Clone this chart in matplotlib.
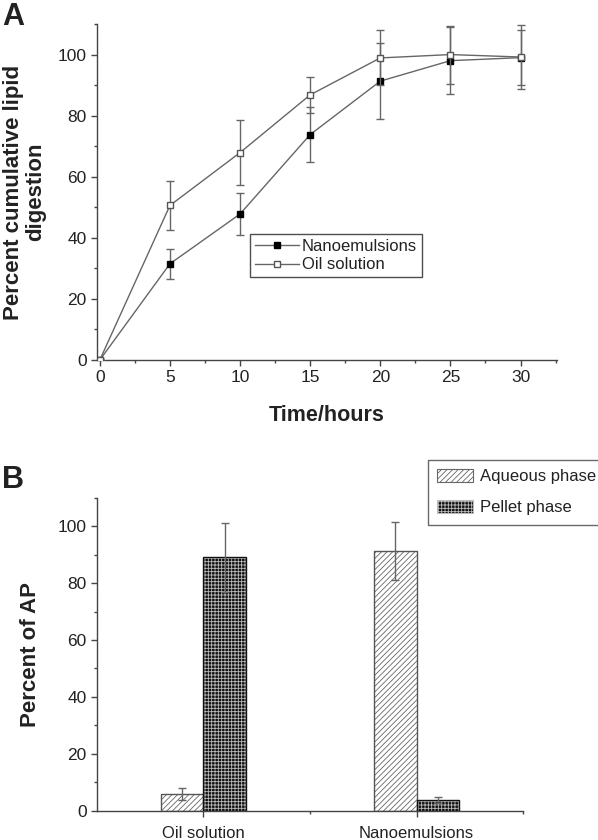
import matplotlib
matplotlib.use("Agg")
import matplotlib.pyplot as plt
from matplotlib.ticker import MultipleLocator, FixedLocator
from matplotlib.lines import Line2D
from matplotlib.patches import Patch

plt.rcParams['font.family'] = ['Liberation Sans', 'DejaVu Sans']
plt.rcParams['hatch.linewidth'] = 0.6

# panel A data
time_h = [0, 5, 10, 15, 20, 25, 30]
nano_digest = [0, 31.5, 47.8, 73.8, 91.3, 98.0, 99.0]
nano_err = [0, 5.0, 7.0, 9.0, 12.5, 11.0, 9.0]
oil_digest = [0, 50.6, 67.9, 86.8, 98.9, 100.0, 99.2]
oil_err = [0, 8.0, 10.7, 6.0, 9.0, 9.5, 10.5]

# panel B data
groups = ["Oil solution", "Nanoemulsions"]
aqueous = [5.8, 91.2]
aqueous_err = [2.0, 10.3]
pellet = [89.0, 3.8]
pellet_err = [12.0, 1.0]

TXT = "#222222"
AX = "#444444"
LN = "#666666"

fig = plt.figure(figsize=(5.98, 8.4), dpi=100)

def style_axes(ax):
    for s in ["top", "right"]:
        ax.spines[s].set_visible(False)
    for s in ["left", "bottom"]:
        ax.spines[s].set_color(AX)
        ax.spines[s].set_linewidth(1.0)
    ax.tick_params(which="major", direction="out", length=4, width=1, colors=AX,
                   labelcolor=TXT, labelsize=12.5)
    ax.tick_params(which="minor", direction="out", length=2.5, width=1, colors=AX)

# ---- A ----
axA = fig.add_axes([0.1622, 0.5714, 0.7692, 0.4])
style_axes(axA)
axA.errorbar(time_h, nano_digest, yerr=nano_err, color=LN, lw=1.0, ecolor=LN,
             elinewidth=1.0, capsize=3, marker="s", ms=4.8, mfc="black",
             mec="black", zorder=3)
axA.errorbar(time_h, oil_digest, yerr=oil_err, color=LN, lw=1.0, ecolor=LN,
             elinewidth=1.0, capsize=3, marker="s", ms=4.8, mfc="white",
             mec="#555555", zorder=4)
axA.set_xlim(-0.2, 32.6)
axA.set_ylim(0, 110)
axA.xaxis.set_major_locator(MultipleLocator(5))
axA.xaxis.set_minor_locator(MultipleLocator(2.5))
axA.yaxis.set_major_locator(MultipleLocator(20))
axA.yaxis.set_minor_locator(MultipleLocator(10))
axA.set_xlabel("Time/hours", fontsize=15.5, fontweight="bold", color=TXT, labelpad=14)
axA.set_ylabel("Percent cumulative lipid\ndigestion", fontsize=16, fontweight="bold",
               color=TXT, labelpad=8, linespacing=1.1)
hN = Line2D([], [], color=LN, lw=1.0, marker="s", ms=4.8, mfc="black", mec="black")
hO = Line2D([], [], color=LN, lw=1.0, marker="s", ms=4.8, mfc="white", mec="#555555")
legA = axA.legend([hN, hO], ["Nanoemulsions", "Oil solution"], loc="upper left",
                  bbox_to_anchor=(0.333, 0.375), fontsize=12,
                  frameon=True, fancybox=False, edgecolor="#222222", numpoints=1,
                  handlelength=2.6, handletextpad=0.2, borderpad=0.3, labelspacing=0.2,
                  borderaxespad=0)
legA.get_frame().set_linewidth(1.0)
for t in legA.get_texts():
    t.set_color(TXT)
fig.text(0.003, 0.998, "A", fontsize=22, fontweight="bold", color=TXT, va="top", ha="left")

# ---- B ----
axB = fig.add_axes([0.1622, 0.0349, 0.7124, 0.3726])
style_axes(axB)
xpos = [1, 2]
w = 0.2
xa = [x - w / 2 for x in xpos]
xp = [x + w / 2 for x in xpos]
axB.bar(xa, aqueous, width=w, facecolor="white", edgecolor="#666666", hatch="//////",
        linewidth=0, zorder=2)
axB.bar(xa, aqueous, width=w, facecolor="none", edgecolor="#555555", linewidth=1.0,
        zorder=3)
axB.bar(xp, pellet, width=w, facecolor="#111111", edgecolor="#bbbbbb", hatch="+++++",
        linewidth=0, zorder=2)
axB.bar(xp, pellet, width=w, facecolor="none", edgecolor="#111111", linewidth=1.0,
        zorder=3)
axB.errorbar(xa, aqueous, yerr=aqueous_err, fmt="none", ecolor=LN, elinewidth=1.0,
             capsize=3, zorder=4)
axB.errorbar(xp, pellet, yerr=pellet_err, fmt="none", ecolor=LN, elinewidth=1.0,
             capsize=3, zorder=4)
axB.set_xlim(0.5, 2.5)
axB.set_ylim(0, 110)
axB.xaxis.set_major_locator(FixedLocator(xpos))
axB.set_xticklabels(groups)
axB.xaxis.set_minor_locator(FixedLocator([1.5, 2.5]))
axB.yaxis.set_major_locator(MultipleLocator(20))
axB.yaxis.set_minor_locator(MultipleLocator(10))
axB.tick_params(axis="x", which="major", labelsize=12, pad=7)
axB.set_ylabel("Percent of AP", fontsize=16, fontweight="bold", color=TXT, labelpad=12)

hA = Patch(facecolor="white", edgecolor="#666666", hatch="//////", linewidth=0.8)
hP = Patch(facecolor="#111111", edgecolor="#bbbbbb", hatch="+++++", linewidth=0.8)
legB = axB.legend([hA, hP], ["Aqueous phase", "Pellet phase"], loc="upper left",
                  bbox_to_anchor=(0.776, 1.12), fontsize=12, frameon=True,
                  fancybox=False, edgecolor="#444444", handlelength=2.2,
                  handleheight=0.8, handletextpad=0.4, borderpad=0.55,
                  labelspacing=0.95, borderaxespad=0)
legB.get_frame().set_linewidth(1.0)
for t in legB.get_texts():
    t.set_color(TXT)
fig.text(0.003, 0.447, "B", fontsize=22, fontweight="bold", color=TXT, va="top", ha="left")

fig.savefig("out.png", dpi=100)
